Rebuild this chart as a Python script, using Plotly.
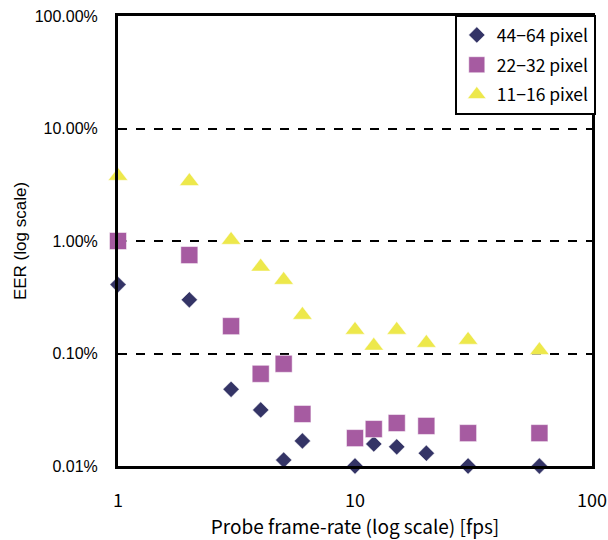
import plotly.graph_objects as go

fps = [1, 2, 3, 4, 5, 6, 10, 12, 15, 20, 30, 60]
eer_44_64 = [0.0041, 0.0030, 0.00048, 0.000315, 0.000113, 0.000167, 0.0001, 0.000157, 0.000148, 0.00013, 0.0001, 0.0001]
eer_22_32 = [0.0100, 0.0075, 0.00175, 0.00066, 0.00081, 0.00029, 0.000177, 0.000213, 0.000241, 0.000227, 0.000196, 0.000196]
eer_11_16 = [0.0378, 0.034, 0.0102, 0.0059, 0.0045, 0.0022, 0.00162, 0.00117, 0.00162, 0.00124, 0.00132, 0.00107]

series_names = ["44\u221264 pixel", "22\u221232 pixel", "11\u221216 pixel"]
y_ticks = [0.0001, 0.001, 0.01, 0.1, 1]
x_ticks = [1, 10, 100]

jp = "Noto Sans CJK JP"
sans = "Liberation Sans"

fig = go.Figure()
fig.add_trace(go.Scatter(x=fps, y=eer_44_64, mode="markers", name=series_names[0],
                         cliponaxis=False, legendgroup="a",
                         marker=dict(symbol="diamond", size=12.5, color="#343466",
                                     line=dict(width=0.5, color="white"))))
fig.add_trace(go.Scatter(x=fps, y=eer_22_32, mode="markers", name=series_names[1],
                         cliponaxis=False, legendgroup="b",
                         marker=dict(symbol="square", size=17, color="#A65BA1",
                                     line=dict(width=0.5, color="white"))))
fig.add_trace(go.Scatter(x=fps, y=eer_11_16, mode="markers", name=series_names[2],
                         cliponaxis=False, legendgroup="c",
                         marker=dict(symbol="triangle-up", size=17, color="#EDE84B",
                                     line=dict(width=0.5, color="white"))))

fig.update_layout(
    width=608, height=540,
    margin=dict(l=118, r=16, t=16, b=74),
    paper_bgcolor="white", plot_bgcolor="white",
    showlegend=True,
    legend=dict(x=1.008, xanchor="right", y=1.002, yanchor="top",
                bordercolor="black", borderwidth=2, bgcolor="white",
                font=dict(family=jp, size=17.5, color="black"),
                tracegroupgap=4, itemsizing="trace", itemwidth=30),
    xaxis=dict(type="log", range=[0, 2], tickvals=x_ticks,
               ticktext=[str(v) for v in x_ticks],
               showgrid=False, zeroline=False, automargin=False,
               showline=True, linecolor="black", linewidth=3, mirror=True,
               ticks="", ticklabelstandoff=16,
               tickfont=dict(family=jp, size=18, color="black"),
               title=dict(text="Probe frame-rate (log scale) [fps]",
                          font=dict(family=jp, size=19, color="black"),
                          standoff=6)),
    yaxis=dict(type="log", range=[-4, 0], tickvals=y_ticks, tickformat=".2%",
               showgrid=True, gridcolor="black", gridwidth=2, griddash="dash",
               zeroline=False, automargin=False,
               showline=True, linecolor="black", linewidth=3, mirror=True,
               ticks="", ticklabelstandoff=14,
               tickfont=dict(family=sans, size=16, color="black"),
               title=dict(text="EER (log scale)",
                          font=dict(family=sans, size=17, color="black"),
                          standoff=4)),
)

fig.write_html("out.html")
